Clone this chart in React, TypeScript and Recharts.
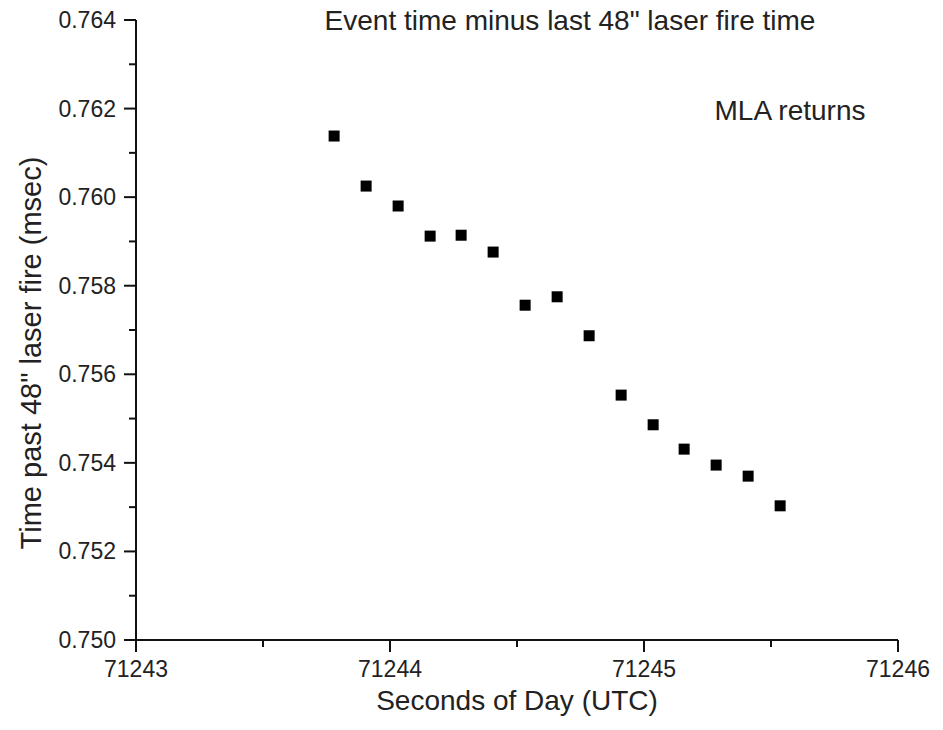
import React from "react";
import { ScatterChart, Scatter, XAxis, YAxis } from "recharts";

// seconds of day (UTC) vs time past last 48" laser fire (msec)
const SECONDS = [
  71243.78, 71243.906, 71244.032, 71244.158, 71244.28, 71244.406, 71244.532, 71244.658,
  71244.784, 71244.91, 71245.036, 71245.158, 71245.284, 71245.41, 71245.536,
];
const DELAY_MSEC = [
  0.76138, 0.76025, 0.7598, 0.75912, 0.75914, 0.75876, 0.75756, 0.75775,
  0.75687, 0.75553, 0.75486, 0.75431, 0.75395, 0.7537, 0.75303,
];
const X_TICKS = [71243, 71243.5, 71244, 71244.5, 71245, 71245.5, 71246];
const Y_TICKS = [
  0.75, 0.751, 0.752, 0.753, 0.754, 0.755, 0.756, 0.757, 0.758, 0.759, 0.76, 0.761, 0.762,
  0.763, 0.764,
];

const FONT = '"Liberation Sans", Arial, sans-serif';
const INK = "#111";
const TEXT = "#222";

const points = SECONDS.map((x, i) => ({ x, y: DELAY_MSEC[i] }));

const XTick = ({ x, y, payload }: any) => {
  const major = Number.isInteger(payload.value);
  return (
    <g>
      <line x1={x} x2={x} y1={y} y2={y + (major ? 12 : 7)} stroke={INK} strokeWidth={2} />
      {major && (
        <text x={x} y={y + 37} textAnchor="middle" fontSize={23} fontFamily={FONT} fill={TEXT}>
          {payload.value}
        </text>
      )}
    </g>
  );
};

const YTick = ({ x, y, payload }: any) => {
  const major = Math.round(payload.value * 1000) % 2 === 0;
  return (
    <g>
      <line x1={x} x2={x - (major ? 12 : 7)} y1={y} y2={y} stroke={INK} strokeWidth={2} />
      {major && (
        <text x={x - 20} y={y + 8} textAnchor="end" fontSize={23} fontFamily={FONT} fill={TEXT}>
          {payload.value.toFixed(3)}
        </text>
      )}
    </g>
  );
};

const SquareDot = ({ cx, cy }: any) => (
  <rect x={cx - 5.5} y={cy - 5.5} width={11} height={11} fill="#000" />
);

const txt = (extra: React.CSSProperties): React.CSSProperties => ({
  position: "absolute",
  fontFamily: FONT,
  color: TEXT,
  whiteSpace: "nowrap",
  lineHeight: 1,
  transform: "translate(-50%, -50%)",
  ...extra,
});

export default function App() {
  return (
    <div style={{ position: "absolute", left: 0, top: 0, width: 943, height: 730, background: "#fff" }}>
      <ScatterChart width={943} height={730} margin={{ top: 20, right: 45, bottom: 0, left: 0 }}>
        <XAxis
          type="number"
          dataKey="x"
          domain={[71243, 71246]}
          ticks={X_TICKS}
          interval={0}
          allowDataOverflow
          height={90}
          tickSize={0}
          tickMargin={0}
          tickLine={false}
          axisLine={{ stroke: INK, strokeWidth: 2 }}
          tick={<XTick />}
        />
        <YAxis
          type="number"
          dataKey="y"
          domain={[0.75, 0.764]}
          ticks={Y_TICKS}
          interval={0}
          allowDataOverflow
          width={136}
          tickSize={0}
          tickMargin={0}
          tickLine={false}
          axisLine={{ stroke: INK, strokeWidth: 2 }}
          tick={<YTick />}
        />
        <Scatter data={points} shape={<SquareDot />} isAnimationActive={false} />
      </ScatterChart>
      <div style={txt({ left: 570, top: 21, fontSize: 28 })}>
        Event time minus last 48" laser fire time
      </div>
      <div style={txt({ left: 790, top: 111, fontSize: 28 })}>MLA returns</div>
      <div style={txt({ left: 517, top: 701, fontSize: 28 })}>Seconds of Day (UTC)</div>
      <div style={txt({ left: 31, top: 353, fontSize: 29, transform: "translate(-50%, -50%) rotate(-90deg)" })}>
        Time past 48" laser fire (msec)
      </div>
    </div>
  );
}
